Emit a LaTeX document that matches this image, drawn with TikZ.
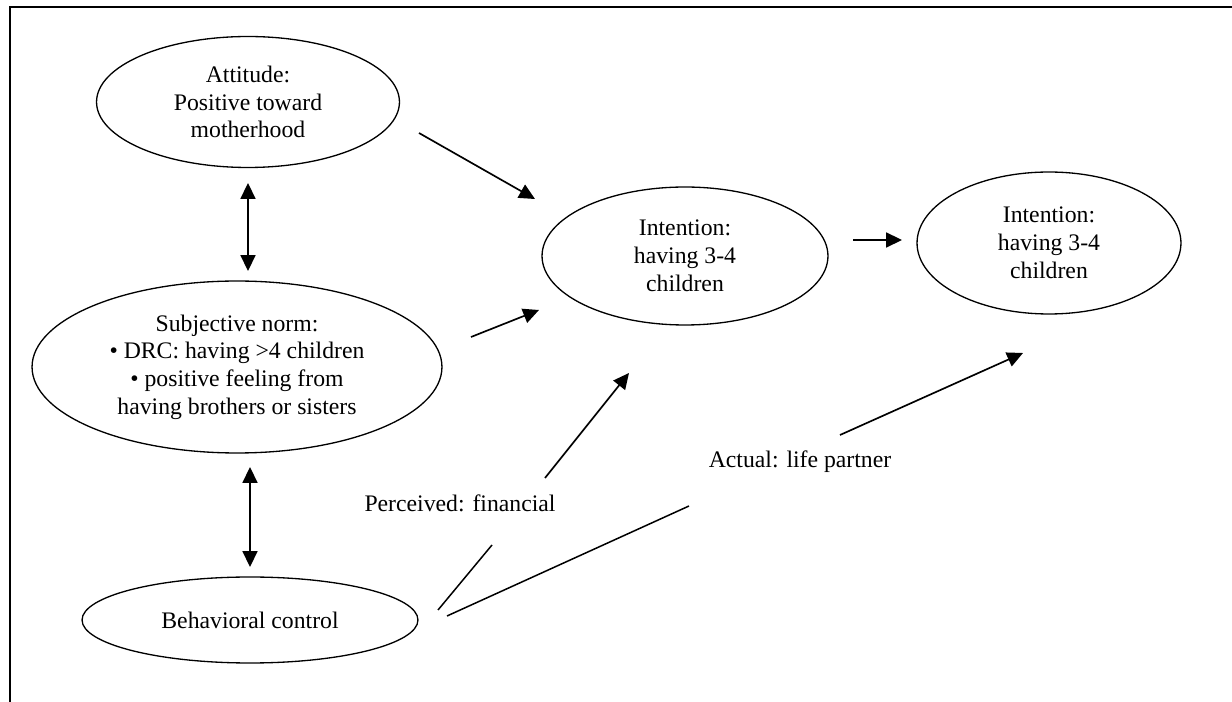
\documentclass[tikz,border=0pt]{standalone}
\usepackage{fontspec}
\setmainfont{Liberation Serif}
\usetikzlibrary{shapes.geometric,arrows.meta}
\tikzset{
    oval/.style={ellipse, draw, line width=0.75pt, inner sep=0pt, align=center},
    link/.style={-{Triangle[length=9pt,width=8.5pt]}, line width=0.95pt},
    twoway/.style={{Triangle[length=9pt,width=8.5pt]}-{Triangle[length=9pt,width=8.5pt]}, line width=0.95pt},
    bare/.style={line width=0.85pt}
}
\begin{document}
\begin{tikzpicture}[x=0.02cm, y=-0.02cm, font=\fontsize{13.5}{15.8}\selectfont]
    \useasboundingbox (0,0) rectangle (1232,702);
    % Frame
    \draw [line width=0.9pt] (10,702) -- (10,7) -- (1232,7);
    % Ellipses
    \node [oval, minimum width=6.06cm, minimum height=2.62cm] (att) at (248,102) {Attitude:\\Positive toward\\motherhood};
    \node [oval, minimum width=8.2cm, minimum height=3.44cm] (norm) at (237,367) {Subjective norm:\\\textbullet\ DRC: having >4 children\\\textbullet\ positive feeling from\\having brothers or sisters};
    \node [oval, minimum width=6.72cm, minimum height=1.72cm] (ctrl) at (250,620) {Behavioral control};
    \node [oval, minimum width=5.72cm, minimum height=2.76cm] (int1) at (685,256) {Intention:\\having 3-4\\children};
    \node [oval, minimum width=5.28cm, minimum height=2.84cm] (int2) at (1049,243) {Intention:\\having 3-4\\children};
    % Labels
    \node [anchor=base] (perc) at (460,512) {Perceived: financial};
    \node [anchor=base] (act) at (800,468) {Actual: life partner};
    % Coordinate
    \coordinate (A1) at (419,133);
    \coordinate (A2) at (535,199);
    \coordinate (N1) at (471,337);
    \coordinate (N2) at (539,310);
    \coordinate (I1) at (853,240);
    \coordinate (I2) at (902,240);
    \coordinate (D1) at (248,183);
    \coordinate (D2) at (248,271);
    \coordinate (D3) at (250,467);
    \coordinate (D4) at (250,567);
    \coordinate (P1) at (438,610);
    \coordinate (P2) at (492,545);
    \coordinate (P3) at (545,478);
    \coordinate (P4) at (629,373);
    \coordinate (L1) at (447,616);
    \coordinate (L2) at (689,506);
    \coordinate (L3) at (840,435);
    \coordinate (L4) at (1023,353);
    % Linee
    \draw [link] (A1) -- (A2); % attitude
    \draw [link] (N1) -- (N2); % norm
    \draw [link] (I1) -- (I2); % intention
    \draw [twoway] (D1) -- (D2);
    \draw [twoway] (D3) -- (D4);
    \draw [bare] (P1) -- (P2); % perceived
    \draw [link] (P3) -- (P4);
    \draw [bare] (L1) -- (L2); % actual
    \draw [link] (L3) -- (L4);
\end{tikzpicture}
\end{document}
